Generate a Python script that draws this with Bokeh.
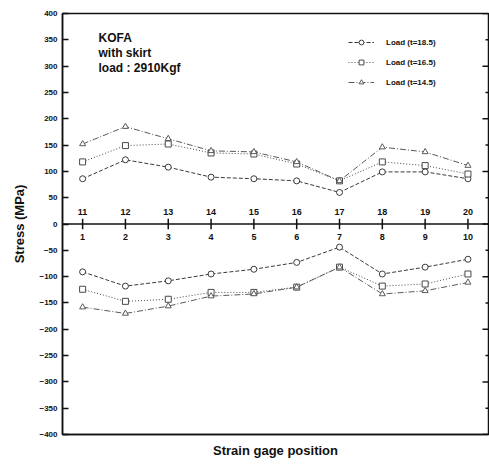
from bokeh.plotting import figure
from bokeh.models import (Range1d, FixedTicker, Span, Legend, LegendItem,
                          Label, ColumnDataSource)
from bokeh.core.properties import value
from bokeh.embed import file_html
from bokeh.resources import INLINE

# Gage positions along the strap: 1-10 on the lower face, 11-20 on the upper face
positions = [1, 2, 3, 4, 5, 6, 7, 8, 9, 10]
upper_labels = ["11", "12", "13", "14", "15", "16", "17", "18", "19", "20"]
lower_labels = ["1", "2", "3", "4", "5", "6", "7", "8", "9", "10"]

# Stress (MPa) at gages 11-20 (tension side)
upper_t185 = [86, 122, 108, 89, 86, 82, 60, 99, 99, 86]
upper_t165 = [118, 149, 152, 135, 133, 114, 82, 118, 111, 95]
upper_t145 = [152, 185, 162, 139, 137, 118, 82, 146, 137, 111]

# Stress (MPa) at gages 1-10 (compression side)
lower_t185 = [-91, -118, -108, -95, -86, -73, -44, -95, -82, -67]
lower_t165 = [-124, -147, -143, -130, -130, -120, -82, -118, -114, -95]
lower_t145 = [-158, -170, -156, -137, -133, -120, -82, -133, -127, -111]

series_names = ["Load (t=18.5)", "Load (t=16.5)", "Load (t=14.5)"]
y_ticks = list(range(-400, 401, 50))
right_major = list(range(-400, 401, 100))
right_minor = list(range(-350, 400, 100))

FONT = "Liberation Sans"
INK = "#111111"
X_LO, X_HI = 0.53, 10.48

p = figure(width=489, height=466, output_backend="svg", toolbar_location=None,
           x_range=Range1d(X_LO, X_HI), y_range=Range1d(-400, 400),
           min_border_left=62, min_border_right=1, min_border_top=13, min_border_bottom=32,
           background_fill_color="white", border_fill_color="white")
p.grid.visible = False
p.outline_line_color = INK
p.outline_line_width = 1.5

# left stress axis
ya = p.yaxis[0]
ya.ticker = FixedTicker(ticks=y_ticks)
ya.axis_label = "Stress (MPa)"
ya.axis_label_text_font = FONT
ya.axis_label_text_font_style = "bold"
ya.axis_label_text_font_size = "13px"
ya.axis_label_text_color = INK
ya.axis_label_standoff = 9
ya.major_label_text_font = FONT
ya.major_label_text_font_style = "bold"
ya.major_label_text_font_size = "8px"
ya.major_label_text_color = INK
ya.major_tick_in = 6
ya.major_tick_out = 0
ya.minor_tick_line_color = None
ya.axis_line_width = 1.5
ya.axis_line_color = INK
ya.major_tick_line_color = INK
ya.major_tick_line_width = 1.5

# bottom axis carries only the title
xa = p.xaxis[0]
xa.ticker = FixedTicker(ticks=[])
xa.axis_label = "Strain gage position"
xa.axis_label_text_font = FONT
xa.axis_label_text_font_style = "bold"
xa.axis_label_text_font_size = "13px"
xa.axis_label_text_color = INK
xa.axis_label_standoff = 8
xa.axis_line_width = 1.5
xa.axis_line_color = INK

# inward tick marks along the right edge of the frame
tick_w = 0.14
p.segment(x0=[X_HI - tick_w] * len(right_major), y0=right_major,
          x1=[X_HI] * len(right_major), y1=right_major, line_color=INK, line_width=1.5)
p.segment(x0=[X_HI - tick_w / 2] * len(right_minor), y0=right_minor,
          x1=[X_HI] * len(right_minor), y1=right_minor, line_color=INK, line_width=1.5)

# zero line with crossing ticks and gage numbers on both sides
p.add_layout(Span(location=0, dimension="width", line_color=INK, line_width=1.5))
p.segment(x0=positions, y0=[-10] * 10, x1=positions, y1=[10] * 10,
          line_color=INK, line_width=1.5)
p.text(x=positions, y=[22] * 10, text=upper_labels, text_align="center",
       text_baseline="middle", text_font=value(FONT), text_font_style="bold",
       text_font_size="9px", text_color=INK)
p.text(x=positions, y=[-24] * 10, text=lower_labels, text_align="center",
       text_baseline="middle", text_font=value(FONT), text_font_style="bold",
       text_font_size="9px", text_color=INK)

styles = [
    dict(dash="4 2", marker="circle", color="#3a3a3a"),
    dict(dash="1 2", marker="square", color="#4a4a4a"),
    dict(dash="6 2 1 2", marker="triangle", color="#5a5a5a"),
]
uppers = [upper_t185, upper_t165, upper_t145]
lowers = [lower_t185, lower_t165, lower_t145]

items = []
for name, st, up, lo in zip(series_names, styles, uppers, lowers):
    renderers = []
    for ys in (up, lo):
        src = ColumnDataSource(dict(x=positions, y=ys))
        ln = p.line("x", "y", source=src, line_color=st["color"], line_width=1,
                    line_dash=st["dash"])
        mk = p.scatter("x", "y", source=src, marker=st["marker"], size=6,
                       fill_color="white", line_color=st["color"], line_width=1)
        renderers += [ln, mk]
    items.append(LegendItem(label=name, renderers=renderers[:2]))

legend = Legend(items=items, location=(286, 346), border_line_color=None,
                background_fill_alpha=0, label_text_font=FONT, label_text_font_style="bold",
                label_text_font_size="8px", label_text_color=INK, glyph_width=26,
                glyph_height=12, label_height=12, spacing=8, padding=4,
                label_standoff=12)
p.add_layout(legend)

# annotation block in the upper left
for txt, yv in (("KOFA", 353), ("with skirt", 324), ("load : 2910Kgf", 296)):
    p.add_layout(Label(x=1.37, y=yv, text=txt, text_font=FONT, text_font_style="bold",
                       text_font_size="12px", text_color=INK, text_baseline="middle"))

open("out.html", "w").write(file_html(p, INLINE))
